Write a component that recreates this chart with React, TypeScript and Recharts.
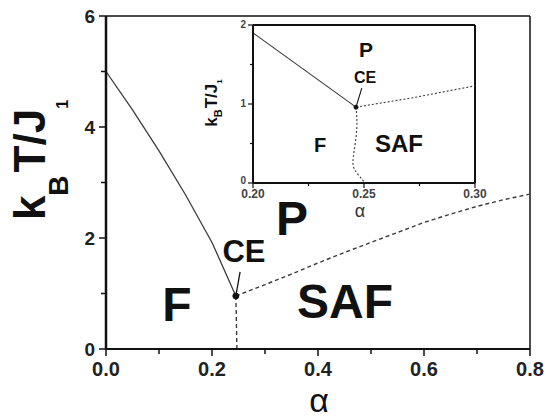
import { ComposedChart, Line, XAxis, YAxis, ReferenceLine } from 'recharts';

// Main phase diagram: boundaries between F, P and SAF
const fpAlpha = [0, 0.05, 0.1, 0.15, 0.2, 0.245];
const fpTemp = [5.0, 4.31, 3.57, 2.78, 1.92, 0.955];

const safpAlpha = [0.245, 0.3, 0.35, 0.4, 0.45, 0.5, 0.55, 0.6, 0.65, 0.7, 0.75, 0.8];
const safpTemp = [0.955, 1.16, 1.35, 1.55, 1.74, 1.92, 2.1, 2.28, 2.43, 2.57, 2.69, 2.79];

const fsafAlpha = [0.245, 0.246, 0.247];
const fsafTemp = [0.955, 0.5, 0];

const ceAlpha = [0.245, 0.253];
const ceTemp = [0.955, 1.39];

const mainXTicks = [0, 0.1, 0.2, 0.3, 0.4, 0.5, 0.6, 0.7, 0.8];
const mainYTicks = [0, 1, 2, 3, 4, 5, 6];

// Inset: zoom around the multicritical point
const inFpAlpha = [0.2, 0.2464];
const inFpTemp = [1.9, 0.96];

const inSafpAlpha = [0.2464, 0.2722, 0.3];
const inSafpTemp = [0.96, 1.08, 1.23];

const inFsafAlpha = [0.2464, 0.2467, 0.2452, 0.2459, 0.2505];
const inFsafTemp = [0.96, 0.67, 0.33, 0.165, 0];

const inCeAlpha = [0.2464, 0.249];
const inCeTemp = [0.96, 1.2];

const insetXTicks = [0.2, 0.225, 0.25, 0.275, 0.3];
const insetYTicks = [0, 0.5, 1, 1.5, 2];

const zip = (a: number[], t: number[]) => a.map((v, i) => ({ a: v, t: t[i] }));

const FONT = '"Liberation Sans", Arial, sans-serif';
const INK = '#111';
const CURVE = '#3c3c3c';

const MainYTick = ({ x, y, payload }: any) => {
  const major = payload.value % 2 === 0;
  return (
    <g>
      <line x1={x - (major ? 7 : 5)} x2={x} y1={y} y2={y} stroke={INK} strokeWidth={1.5} />
      {major && (
        <text x={x - 11} y={y} dy="0.36em" textAnchor="end" fontFamily={FONT} fontWeight="bold" fontSize={19} fill="#222">
          {payload.value}
        </text>
      )}
    </g>
  );
};

const MainXTick = ({ x, y, payload }: any) => {
  const major = Math.round(payload.value * 10) % 2 === 0;
  return (
    <g>
      <line x1={x} x2={x} y1={y} y2={y + (major ? 7 : 5)} stroke={INK} strokeWidth={1.5} />
      {major && (
        <text x={x} y={y + 27} textAnchor="middle" fontFamily={FONT} fontWeight="bold" fontSize={20} fill="#222">
          {payload.value.toFixed(1)}
        </text>
      )}
    </g>
  );
};

// inset ticks; the "0" label sits a little high so it clears the 0.20 below it
const InsetYTick = ({ x, y, payload }: any) => {
  const major = Number.isInteger(payload.value);
  const lift = payload.value === 0 ? 3 : 1;
  return (
    <g>
      <line x1={x - (major ? 5 : 3)} x2={x} y1={y} y2={y} stroke={INK} strokeWidth={1.2} />
      {major && (
        <text x={x - 7} y={y - lift} dy="0.36em" textAnchor="end" fontFamily={FONT} fontWeight="bold" fontSize={10} fill="#444">
          {payload.value}
        </text>
      )}
    </g>
  );
};

const InsetXTick = ({ x, y, payload }: any) => {
  const major = Math.round(payload.value * 1000) % 50 === 0;
  return (
    <g>
      <line x1={x} x2={x} y1={y} y2={y + (major ? 5 : 3)} stroke={INK} strokeWidth={1.2} />
      {major && (
        <text x={x} y={y + 15} textAnchor="middle" fontFamily={FONT} fontWeight="bold" fontSize={12} fill="#444">
          {payload.value.toFixed(2)}
        </text>
      )}
    </g>
  );
};

export default function App() {
  return (
    <div style={{ position: 'absolute', left: 0, top: 0, width: 546, height: 419, background: '#fff' }}>
      <ComposedChart width={546} height={419} margin={{ top: 16, right: 16, left: 66, bottom: 40 }}>
        <XAxis
          type="number"
          dataKey="a"
          domain={[0, 0.8]}
          ticks={mainXTicks}
          interval={0}
          tickSize={0}
          tickMargin={0}
          tickLine={false}
          height={30}
          axisLine={{ stroke: INK, strokeWidth: 2 }}
          tick={<MainXTick />}
        />
        <YAxis
          type="number"
          dataKey="t"
          domain={[0, 6]}
          ticks={mainYTicks}
          interval={0}
          tickSize={0}
          tickMargin={0}
          tickLine={false}
          width={40}
          axisLine={{ stroke: INK, strokeWidth: 2.5 }}
          tick={<MainYTick />}
        />
        <ReferenceLine y={6} stroke={INK} strokeWidth={1.5} />
        <ReferenceLine x={0.8} stroke={INK} strokeWidth={1.5} />
        <Line data={zip(fpAlpha, fpTemp)} dataKey="t" type="linear" stroke={CURVE} strokeWidth={1.3} dot={false} isAnimationActive={false} />
        <Line data={zip(safpAlpha, safpTemp)} dataKey="t" type="linear" stroke={CURVE} strokeWidth={1.4} strokeDasharray="4 3" dot={false} isAnimationActive={false} />
        <Line data={zip(fsafAlpha, fsafTemp)} dataKey="t" type="linear" stroke={CURVE} strokeWidth={1.4} strokeDasharray="4 3" dot={false} isAnimationActive={false} />
        <Line data={zip(ceAlpha, ceTemp)} dataKey="t" type="linear" stroke={INK} strokeWidth={1.3} dot={false} isAnimationActive={false} />
        <Line data={zip([ceAlpha[0]], [ceTemp[0]])} dataKey="t" stroke="none" dot={{ r: 3, fill: INK, stroke: INK }} isAnimationActive={false} />
      </ComposedChart>

      <div style={{ position: 'absolute', left: 203, top: 0 }}>
        <ComposedChart width={290} height={230} margin={{ top: 25, right: 18, left: 30, bottom: 27 }}>
          <XAxis
            type="number"
            dataKey="a"
            domain={[0.2, 0.3]}
            ticks={insetXTicks}
            interval={0}
            tickSize={0}
            tickMargin={0}
            tickLine={false}
            height={20}
            axisLine={{ stroke: INK, strokeWidth: 2 }}
            tick={<InsetXTick />}
          />
          <YAxis
            type="number"
            dataKey="t"
            domain={[0, 2]}
            ticks={insetYTicks}
            interval={0}
            tickSize={0}
            tickMargin={0}
            tickLine={false}
            width={20}
            axisLine={{ stroke: INK, strokeWidth: 2 }}
            tick={<InsetYTick />}
          />
          <ReferenceLine y={2} stroke={INK} strokeWidth={2} />
          <ReferenceLine x={0.3} stroke={INK} strokeWidth={2} />
          <Line data={zip(inFpAlpha, inFpTemp)} dataKey="t" type="linear" stroke={CURVE} strokeWidth={1.1} dot={false} isAnimationActive={false} />
          <Line data={zip(inSafpAlpha, inSafpTemp)} dataKey="t" type="linear" stroke={CURVE} strokeWidth={1.1} strokeDasharray="2 2" dot={false} isAnimationActive={false} />
          <Line data={zip(inFsafAlpha, inFsafTemp)} dataKey="t" type="natural" stroke={CURVE} strokeWidth={1.1} strokeDasharray="2 2" dot={false} isAnimationActive={false} />
          <Line data={zip(inCeAlpha, inCeTemp)} dataKey="t" type="linear" stroke={INK} strokeWidth={1.1} dot={false} isAnimationActive={false} />
          <Line data={zip([inCeAlpha[0]], [inCeTemp[0]])} dataKey="t" stroke="none" dot={{ r: 2, fill: INK, stroke: INK }} isAnimationActive={false} />
        </ComposedChart>
      </div>

      {/* phase names and axis titles */}
      <svg width={546} height={419} style={{ position: 'absolute', left: 0, top: 0, pointerEvents: 'none' }}>
        <g fontFamily={FONT} fontWeight="bold" fill={INK} textAnchor="middle">
          <text x={292} y={235} fontSize={48}>P</text>
          <text x={244} y={262} fontSize={31}>CE</text>
          <text x={177} y={321} fontSize={48}>F</text>
          <text x={345} y={318} fontSize={48}>SAF</text>

          <text x={366} y={57} fontSize={21}>P</text>
          <text x={365} y={83} fontSize={16}>CE</text>
          <text x={320} y={152} fontSize={20}>F</text>
          <text x={399} y={152} fontSize={24}>SAF</text>

          <text x={45} y={160} fontSize={44} transform="rotate(-90 45 160)">
            k<tspan fontSize={28} dy={23}>B</tspan>
            <tspan dy={-23} dx={3}>T/J</tspan>
            <tspan fontSize={16} dy={23}>1</tspan>
          </text>

          <text x={217} y={103} fontSize={17} transform="rotate(-90 217 103)">
            k<tspan fontSize={11} dy={5}>B</tspan>
            <tspan dy={-5} dx={1}>T/J</tspan>
            <tspan fontSize={8} dy={5}>1</tspan>
          </text>
        </g>
        <text x={319} y={412} textAnchor="middle" fontFamily={FONT} fontSize={34} fill={INK}>α</text>
        <text x={360} y={217} textAnchor="middle" fontFamily={FONT} fontSize={18} fill="#333">α</text>
      </svg>
    </div>
  );
}
